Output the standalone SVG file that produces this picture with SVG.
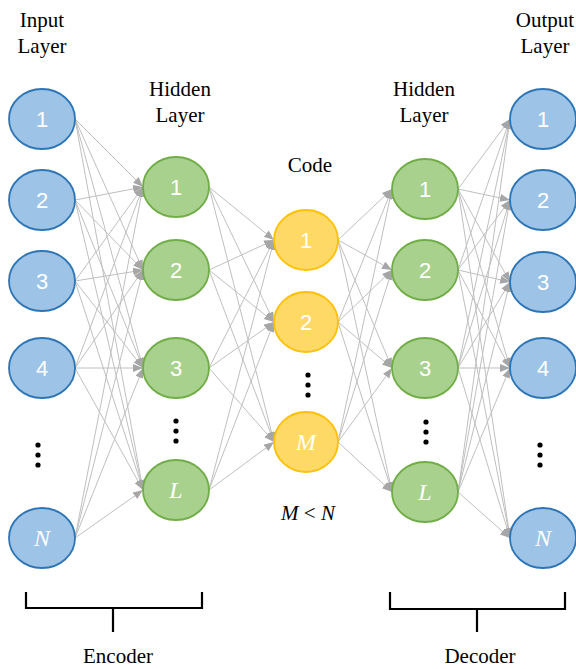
<svg xmlns="http://www.w3.org/2000/svg" width="576" height="669" viewBox="0 0 576 669">
<defs>
<marker id="ah" markerUnits="userSpaceOnUse" markerWidth="11" markerHeight="9" refX="10" refY="4" orient="auto" viewBox="0 0 11 9">
<path d="M0,0 L10,4 L0,8 z" fill="#A6A6A6"/>
</marker>
</defs>
<style>
.lbl{font-family:'Liberation Serif','Times New Roman','DejaVu Serif',serif;font-size:21px;fill:#000;text-anchor:middle}
.num{font-family:'Liberation Sans',Arial,sans-serif;font-size:22px;fill:#fff;text-anchor:middle}
.var{font-family:'Liberation Serif','Times New Roman','DejaVu Serif',serif;font-style:italic;font-size:24px;fill:#fff;text-anchor:middle}
.blue{fill:#9DC3E6;stroke:#2E75B6;stroke-width:1.8}
.green{fill:#A9D18E;stroke:#70AD47;stroke-width:1.8}
.yellow{fill:#FFD966;stroke:#FFC000;stroke-width:1.8}
.dot{fill:#000}
.c line{stroke:#BFBFBF;stroke-width:1;marker-end:url(#ah)}
.brace{fill:none;stroke:#000;stroke-width:2.2}
</style>
<rect width="576" height="669" fill="#fff"/>

<g id="connectors" class="c">
<line x1="75" y1="119" x2="143" y2="187"/><line x1="75" y1="119" x2="143" y2="270"/><line x1="75" y1="119" x2="143" y2="368"/><line x1="75" y1="119" x2="143" y2="490"/>
<line x1="75" y1="200" x2="143" y2="187"/><line x1="75" y1="200" x2="143" y2="270"/><line x1="75" y1="200" x2="143" y2="368"/><line x1="75" y1="200" x2="143" y2="490"/>
<line x1="75" y1="281" x2="143" y2="187"/><line x1="75" y1="281" x2="143" y2="270"/><line x1="75" y1="281" x2="143" y2="368"/><line x1="75" y1="281" x2="143" y2="490"/>
<line x1="75" y1="368" x2="143" y2="187"/><line x1="75" y1="368" x2="143" y2="270"/><line x1="75" y1="368" x2="143" y2="368"/><line x1="75" y1="368" x2="143" y2="490"/>
<line x1="75" y1="538" x2="143" y2="187"/><line x1="75" y1="538" x2="143" y2="270"/><line x1="75" y1="538" x2="143" y2="368"/><line x1="75" y1="538" x2="143" y2="490"/>
<line x1="209" y1="187" x2="274" y2="240"/><line x1="209" y1="187" x2="274" y2="322"/><line x1="209" y1="187" x2="274" y2="442"/>
<line x1="209" y1="270" x2="274" y2="240"/><line x1="209" y1="270" x2="274" y2="322"/><line x1="209" y1="270" x2="274" y2="442"/>
<line x1="209" y1="368" x2="274" y2="240"/><line x1="209" y1="368" x2="274" y2="322"/><line x1="209" y1="368" x2="274" y2="442"/>
<line x1="209" y1="490" x2="274" y2="240"/><line x1="209" y1="490" x2="274" y2="322"/><line x1="209" y1="490" x2="274" y2="442"/>
<line x1="338" y1="240" x2="392" y2="189"/><line x1="338" y1="240" x2="392" y2="270"/><line x1="338" y1="240" x2="392" y2="368"/><line x1="338" y1="240" x2="392" y2="492"/>
<line x1="338" y1="322" x2="392" y2="189"/><line x1="338" y1="322" x2="392" y2="270"/><line x1="338" y1="322" x2="392" y2="368"/><line x1="338" y1="322" x2="392" y2="492"/>
<line x1="338" y1="442" x2="392" y2="189"/><line x1="338" y1="442" x2="392" y2="270"/><line x1="338" y1="442" x2="392" y2="368"/><line x1="338" y1="442" x2="392" y2="492"/>
<line x1="458" y1="189" x2="510" y2="119"/><line x1="458" y1="189" x2="510" y2="200"/><line x1="458" y1="189" x2="510" y2="282"/><line x1="458" y1="189" x2="510" y2="368"/><line x1="458" y1="189" x2="510" y2="538"/>
<line x1="458" y1="270" x2="510" y2="119"/><line x1="458" y1="270" x2="510" y2="200"/><line x1="458" y1="270" x2="510" y2="282"/><line x1="458" y1="270" x2="510" y2="368"/><line x1="458" y1="270" x2="510" y2="538"/>
<line x1="458" y1="368" x2="510" y2="119"/><line x1="458" y1="368" x2="510" y2="200"/><line x1="458" y1="368" x2="510" y2="282"/><line x1="458" y1="368" x2="510" y2="368"/><line x1="458" y1="368" x2="510" y2="538"/>
<line x1="458" y1="492" x2="510" y2="119"/><line x1="458" y1="492" x2="510" y2="200"/><line x1="458" y1="492" x2="510" y2="282"/><line x1="458" y1="492" x2="510" y2="368"/><line x1="458" y1="492" x2="510" y2="538"/>
</g>

<g id="in1"><ellipse class="blue" cx="42" cy="119" rx="33" ry="30"/><text class="num" x="42" y="127">1</text></g>
<g id="in2"><ellipse class="blue" cx="42" cy="200" rx="33" ry="30"/><text class="num" x="42" y="208">2</text></g>
<g id="in3"><ellipse class="blue" cx="42" cy="281" rx="33" ry="30"/><text class="num" x="42" y="289">3</text></g>
<g id="in4"><ellipse class="blue" cx="42" cy="368" rx="33" ry="30"/><text class="num" x="42" y="376">4</text></g>
<g id="inN"><ellipse class="blue" cx="42" cy="538" rx="33" ry="30"/><text class="var" x="42" y="546">N</text></g>

<g id="eh1"><ellipse class="green" cx="176" cy="187" rx="33" ry="30"/><text class="num" x="176" y="195">1</text></g>
<g id="eh2"><ellipse class="green" cx="176" cy="270" rx="33" ry="30"/><text class="num" x="176" y="278">2</text></g>
<g id="eh3"><ellipse class="green" cx="176" cy="368" rx="33" ry="30"/><text class="num" x="176" y="376">3</text></g>
<g id="ehL"><ellipse class="green" cx="176" cy="490" rx="33" ry="30"/><text class="var" x="176" y="498">L</text></g>

<g id="c1"><ellipse class="yellow" cx="306" cy="240" rx="32" ry="30"/><text class="num" x="306" y="248">1</text></g>
<g id="c2"><ellipse class="yellow" cx="306" cy="322" rx="32" ry="30"/><text class="num" x="306" y="330">2</text></g>
<g id="cM"><ellipse class="yellow" cx="306" cy="442" rx="32" ry="30"/><text class="var" x="306" y="450">M</text></g>

<g id="dh1"><ellipse class="green" cx="425" cy="189" rx="33" ry="30"/><text class="num" x="425" y="197">1</text></g>
<g id="dh2"><ellipse class="green" cx="425" cy="270" rx="33" ry="30"/><text class="num" x="425" y="278">2</text></g>
<g id="dh3"><ellipse class="green" cx="425" cy="368" rx="33" ry="30"/><text class="num" x="425" y="376">3</text></g>
<g id="dhL"><ellipse class="green" cx="425" cy="492" rx="33" ry="30"/><text class="var" x="425" y="500">L</text></g>

<g id="out1"><ellipse class="blue" cx="543" cy="119" rx="33" ry="30"/><text class="num" x="543" y="127">1</text></g>
<g id="out2"><ellipse class="blue" cx="543" cy="200" rx="33" ry="30"/><text class="num" x="543" y="208">2</text></g>
<g id="out3"><ellipse class="blue" cx="543" cy="282" rx="33" ry="30"/><text class="num" x="543" y="290">3</text></g>
<g id="out4"><ellipse class="blue" cx="543" cy="368" rx="33" ry="30"/><text class="num" x="543" y="376">4</text></g>
<g id="outN"><ellipse class="blue" cx="543" cy="538" rx="33" ry="30"/><text class="var" x="543" y="546">N</text></g>

<g id="dots">
<circle class="dot" cx="38" cy="445" r="2.6"/><circle class="dot" cx="38" cy="455" r="2.6"/><circle class="dot" cx="38" cy="465" r="2.6"/>
<circle class="dot" cx="176" cy="421" r="2.6"/><circle class="dot" cx="176" cy="431" r="2.6"/><circle class="dot" cx="176" cy="441" r="2.6"/>
<circle class="dot" cx="308" cy="375" r="2.6"/><circle class="dot" cx="308" cy="385" r="2.6"/><circle class="dot" cx="308" cy="395" r="2.6"/>
<circle class="dot" cx="426" cy="422" r="2.6"/><circle class="dot" cx="426" cy="432" r="2.6"/><circle class="dot" cx="426" cy="442" r="2.6"/>
<circle class="dot" cx="540" cy="445" r="2.6"/><circle class="dot" cx="540" cy="455" r="2.6"/><circle class="dot" cx="540" cy="465" r="2.6"/>
</g>

<g id="labels">
<text class="lbl" x="42" y="27">Input</text><text class="lbl" x="42" y="53">Layer</text>
<text class="lbl" x="180" y="96">Hidden</text><text class="lbl" x="180" y="122">Layer</text>
<text class="lbl" x="310" y="172">Code</text>
<text class="lbl" x="424" y="96">Hidden</text><text class="lbl" x="424" y="122">Layer</text>
<text class="lbl" x="545" y="27">Output</text><text class="lbl" x="545" y="53">Layer</text>
<text class="lbl" x="308" y="520" font-size="22"><tspan font-style="italic">M</tspan> &lt; <tspan font-style="italic">N</tspan></text>
<text class="lbl" x="118" y="663">Encoder</text>
<text class="lbl" x="480" y="663">Decoder</text>
</g>

<g id="braces">
<path class="brace" d="M26,592 V608 H202 V592 M113,608 V632"/>
<path class="brace" d="M390,592 V609 H565 V592 M477,609 V632"/>
</g>
</svg>
